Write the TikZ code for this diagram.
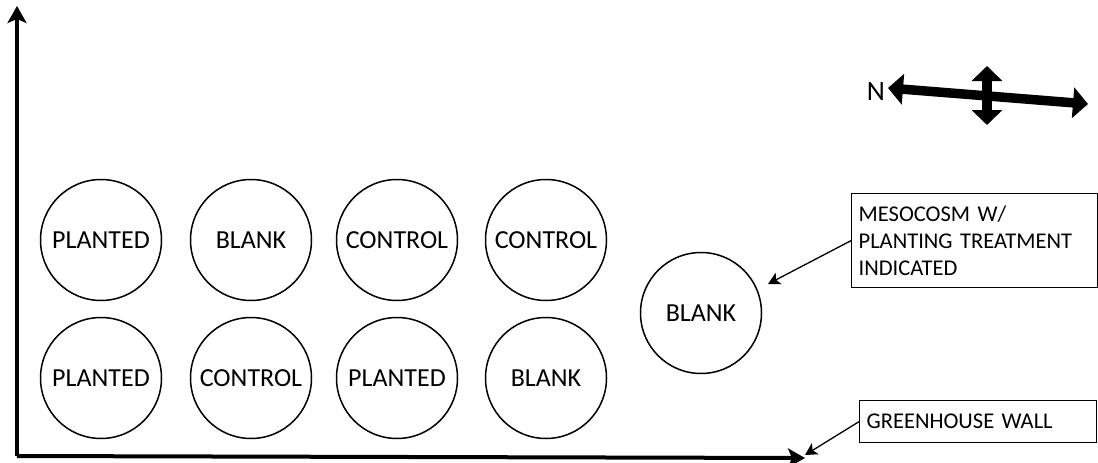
\documentclass[tikz,border=0pt]{standalone}
\usepackage{fontspec}
\setmainfont{Carlito}
\usetikzlibrary{arrows.meta,calc}
\begin{document}
\begin{tikzpicture}[x=1pt,y=-1pt,
  meso/.style={draw=black,line width=1.5pt,circle,minimum size=121pt,inner sep=0pt,font=\fontsize{26}{30}\selectfont},
  lbox/.style={draw=black,line width=1.3pt,rectangle,anchor=north west,inner sep=0pt,align=left,font=\fontsize{22.5}{27}\selectfont},
  axis/.style={line width=4pt,-{Stealth[width=19pt,length=17pt,inset=4pt]}},
  pointer/.style={line width=1.3pt,-{Stealth[width=13pt,length=12pt,inset=3pt]}},
  compass/.style={line width=9.5pt,{Triangle[width=30pt,length=15pt]}-{Triangle[width=30pt,length=15pt]}}]
\useasboundingbox (0,0) rectangle (1098,463);
% axes
\coordinate (O) at (17,456);
\coordinate (Ytop) at (17,6);
\coordinate (Xend) at (805,458);
\draw[axis] (O) -- (Ytop);
\draw[axis] (O) -- (Xend);
% mesocosms
\node[meso] (c1) at (101,240) {PLANTED};
\node[meso] (c2) at (251,240) {BLANK};
\node[meso] (c3) at (397,240) {CONTROL};
\node[meso] (c4) at (546,240) {CONTROL};
\node[meso] (c5) at (101,378) {PLANTED};
\node[meso] (c6) at (251,378) {CONTROL};
\node[meso] (c7) at (397,378) {PLANTED};
\node[meso] (c8) at (546,378) {BLANK};
\node[meso] (c9) at (701,313) {BLANK};
% labels
\node[lbox,minimum width=246pt,minimum height=94pt,text width=232pt,inner xsep=7pt] (l1) at (851,193) {MESOCOSM W/\\PLANTING TREATMENT\\INDICATED};
\node[lbox,minimum width=237pt,minimum height=42pt,text width=223pt,inner xsep=7pt] (l2) at (859,400) {GREENHOUSE WALL};
\coordinate (t1) at (768,284);
\coordinate (t2) at (805,455);
\draw[pointer] (l1.west) -- (t1);
\draw[pointer] (l2.west) -- (t2);
% compass
\node[font=\fontsize{28}{30}\selectfont,inner sep=0pt] (N) at (876,92) {N};
\coordinate (Ew) at (888,88);
\coordinate (Ee) at (1088,104);
\coordinate (Vt) at (987,66);
\coordinate (Vb) at (987,125);
\draw[compass] (Ew) -- (Ee);
\draw[compass] (Vt) -- (Vb);
\end{tikzpicture}
\end{document}
